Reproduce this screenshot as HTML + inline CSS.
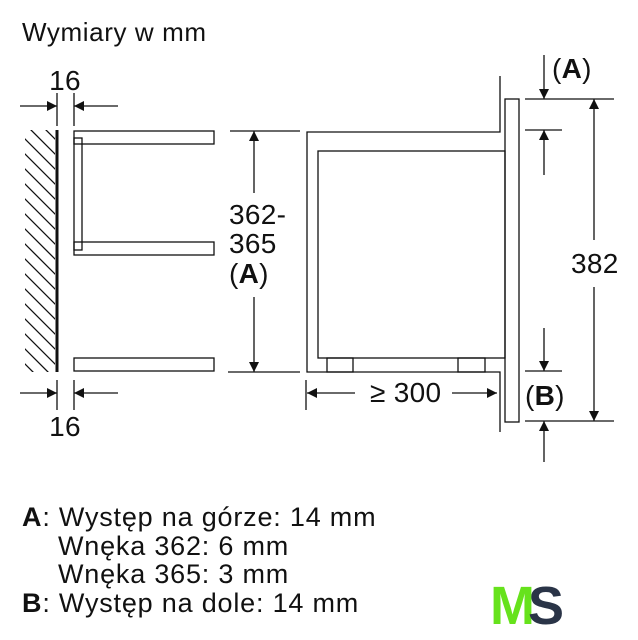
<!DOCTYPE html>
<html><head><meta charset="utf-8"><style>
body{margin:0;background:#fff;width:638px;height:640px;overflow:hidden}
svg{display:block}
text{font-family:"Liberation Sans",sans-serif;fill:#111}
</style></head><body>
<svg width="638" height="640" viewBox="0 0 638 640" xmlns="http://www.w3.org/2000/svg">
<defs>
<marker id="ar" viewBox="0 0 10 10" refX="10" refY="5" markerWidth="12" markerHeight="10" markerUnits="userSpaceOnUse" orient="auto"><path d="M0,0L10,5L0,10z" fill="#111"/></marker>
<clipPath id="hc"><rect x="25" y="130" width="30" height="242"/></clipPath>
</defs>
<text x="22" y="41" font-size="26" letter-spacing="0.6">Wymiary w mm</text>
<g stroke="#111" fill="none" stroke-width="1.3">
<line x1="57" y1="130" x2="57" y2="372" stroke-width="3"/>
<g clip-path="url(#hc)">
<path d="M0,130 L80,210 M0,145 L80,225 M0,160 L80,240 M0,175 L80,255 M0,190 L80,270 M0,205 L80,285 M0,220 L80,300 M0,235 L80,315 M0,250 L80,330 M0,265 L80,345 M0,280 L80,360 M0,295 L80,375 M0,310 L80,390 M0,325 L80,405 M0,340 L80,420 M0,355 L80,435 M0,115 L80,195 M0,100 L80,180 M0,85 L80,165 M0,70 L80,150 M0,55 L80,135" transform="translate(12,-4)"/>
</g>
<rect x="74" y="131" width="140" height="13"/>
<rect x="74" y="242" width="140" height="13"/>
<rect x="74" y="358" width="140" height="13"/>
<rect x="74" y="138" width="8" height="112"/>
<line x1="57" y1="93" x2="57" y2="126"/><line x1="74" y1="93" x2="74" y2="126"/>
<line x1="20" y1="106" x2="57" y2="106" marker-end="url(#ar)"/>
<line x1="118" y1="106" x2="74" y2="106" marker-end="url(#ar)"/>
<line x1="57" y1="380" x2="57" y2="410"/><line x1="74" y1="380" x2="74" y2="410"/>
<line x1="20" y1="393" x2="57" y2="393" marker-end="url(#ar)"/>
<line x1="118" y1="393" x2="74" y2="393" marker-end="url(#ar)"/>
<line x1="230" y1="131" x2="300" y2="131"/><line x1="228" y1="372" x2="300" y2="372"/>
<line x1="254" y1="193" x2="254" y2="131" marker-end="url(#ar)"/>
<line x1="254" y1="297" x2="254" y2="372" marker-end="url(#ar)"/>
<path d="M500,76 L500,132 L307,132 L307,372 L500,372 L500,432"/>
<rect x="318" y="151" width="187" height="207"/>
<rect x="327" y="358" width="26" height="14"/>
<rect x="458" y="358" width="27" height="14"/>
<rect x="505" y="99" width="14" height="323"/>
<line x1="306" y1="380" x2="306" y2="410"/>
<line x1="355" y1="393" x2="307" y2="393" marker-end="url(#ar)"/>
<line x1="452" y1="393" x2="497" y2="393" marker-end="url(#ar)"/>
<line x1="525" y1="99" x2="614" y2="99"/>
<line x1="525" y1="130" x2="562" y2="130"/>
<line x1="525" y1="371" x2="562" y2="371"/>
<line x1="525" y1="421" x2="614" y2="421"/>
<line x1="544" y1="55" x2="544" y2="99" marker-end="url(#ar)"/>
<line x1="544" y1="175" x2="544" y2="130" marker-end="url(#ar)"/>
<line x1="544" y1="328" x2="544" y2="371" marker-end="url(#ar)"/>
<line x1="544" y1="462" x2="544" y2="421" marker-end="url(#ar)"/>
<line x1="594" y1="240" x2="594" y2="99" marker-end="url(#ar)"/>
<line x1="594" y1="287" x2="594" y2="421" marker-end="url(#ar)"/>
</g>
<g font-size="28" letter-spacing="0.3">
<text x="65" y="90" text-anchor="middle">16</text>
<text x="65" y="436" text-anchor="middle">16</text>
<text x="229" y="224">362-</text>
<text x="229" y="253">365</text>
<text x="229" y="283">(<tspan font-weight="bold">A</tspan>)</text>
<text x="370" y="402">≥ 300</text>
<text x="552" y="78">(<tspan font-weight="bold">A</tspan>)</text>
<text x="525" y="405">(<tspan font-weight="bold">B</tspan>)</text>
<text x="571" y="273">382</text>
</g>
<g font-size="27" letter-spacing="0.8">
<text x="22" y="526"><tspan font-weight="bold">A</tspan>: Występ na górze: 14 mm</text>
<text x="58" y="555">Wnęka 362: 6 mm</text>
<text x="58" y="583">Wnęka 365: 3 mm</text>
<text x="22" y="612"><tspan font-weight="bold">B</tspan>: Występ na dole: 14 mm</text>
</g>
<text x="490" y="624" font-size="54" font-weight="bold" style="fill:#66e21c" letter-spacing="-6">M</text>
<text x="528" y="624" font-size="54" font-weight="bold" style="fill:#2a3447">S</text>
</svg>
</body></html>
